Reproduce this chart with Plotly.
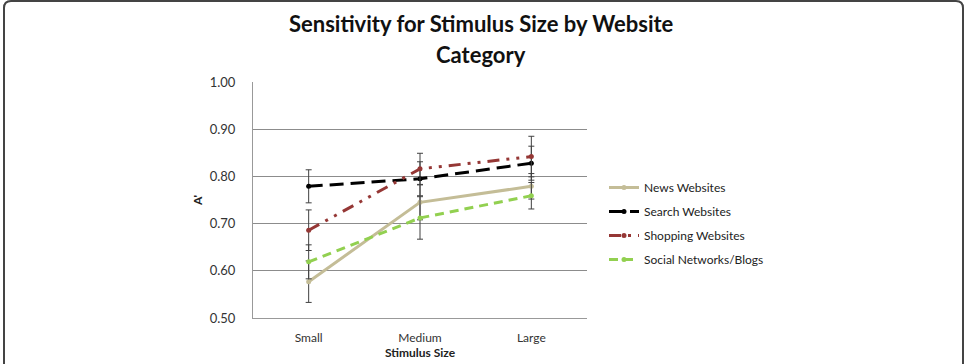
import plotly.graph_objects as go

categories = ["Small", "Medium", "Large"]
series_names = ["News Websites", "Search Websites", "Shopping Websites", "Social Networks/Blogs"]
news = [0.577, 0.745, 0.779]
search = [0.779, 0.795, 0.828]
shopping = [0.686, 0.816, 0.842]
social = [0.619, 0.712, 0.759]
news_err = [0.044, 0.037, 0.027]
search_err = [0.035, 0.036, 0.036]
shopping_err = [0.043, 0.033, 0.043]
social_err = [0.036, 0.045, 0.028]
y_ticks = [0.5, 0.6, 0.7, 0.8, 0.9, 1.0]
title_lines = ["Sensitivity for Stimulus Size by Website", "Category"]

W, H = 967, 364
L, R, T, B = 253, 380, 82, 46
PW, PH = W - L - R, H - T - B

def px(x):
    return (x - L) / PW

def py(y):
    return (H - B - y) / PH

FONT = "Lato, 'Open Sans', sans-serif"

styles = [
    dict(color="#C4BD97", dash="solid", symbol="circle"),
    dict(color="#000000", dash="14px,7px", symbol="circle"),
    dict(color="#953735", dash="12px,7px,3px,7px,3px,7px", symbol="circle"),
    dict(color="#92D050", dash="9px,6px", symbol="circle"),
]
values = [news, search, shopping, social]
errs = [news_err, search_err, shopping_err, social_err]

fig = go.Figure()
for i, (name, vals, err, st) in enumerate(zip(series_names, values, errs, styles)):
    fig.add_trace(go.Scatter(
        x=categories, y=vals, name=name, mode="lines+markers",
        line=dict(color=st["color"], width=3, dash=st["dash"]),
        marker=dict(color=st["color"], size=5, symbol=st["symbol"]),
        error_y=dict(type="data", array=err, visible=True, color="#404040",
                     thickness=1, width=3),
        legendgroup=f"g{i}",
    ))

frame_path = (f"M {px(4)},{py(372)} L {px(4)},{py(8)} Q {px(4)},{py(1)} {px(11)},{py(1)} "
              f"L {px(956)},{py(1)} Q {px(963)},{py(1)} {px(963)},{py(8)} L {px(963)},{py(372)}")

annotations = []
for txt, yc in zip(title_lines, [23, 54]):
    annotations.append(dict(
        text=f"<b>{txt}</b>", xref="paper", yref="paper", x=px(481), y=py(yc),
        xanchor="center", yanchor="middle", showarrow=False,
        font=dict(family=FONT, size=22, color="#111111")))

fig.update_layout(
    width=W, height=H,
    margin=dict(l=L, r=R, t=T, b=B, autoexpand=False),
    paper_bgcolor="white", plot_bgcolor="white",
    font=dict(family=FONT, size=12, color="#222222"),
    showlegend=True,
    legend=dict(x=px(604), y=py(173), xanchor="left", yanchor="top",
                traceorder="grouped", tracegroupgap=5,
                font=dict(family=FONT, size=12, color="#222222"),
                bgcolor="rgba(0,0,0,0)"),
    xaxis=dict(
        type="category", categoryorder="array", categoryarray=categories,
        range=[-0.5, 2.5], automargin=False,
        showgrid=False, showline=True, linecolor="#999999", linewidth=1,
        ticks="", ticklabelstandoff=9,
        title=dict(text="<b>Stimulus Size</b>", font=dict(size=12, color="#222222"), standoff=4),
        tickfont=dict(size=12, color="#333333"),
    ),
    yaxis=dict(
        range=[0.5, 1.0], tickvals=y_ticks, tickformat=".2f", automargin=False,
        showgrid=True, gridcolor="#8c8c8c", gridwidth=1,
        showline=True, linecolor="#999999", linewidth=1,
        ticks="", ticklabelstandoff=14, zeroline=False,
        title=dict(text="<b>A'</b>", font=dict(size=12, color="#222222"), standoff=4),
        tickfont=dict(size=13, color="#333333"),
    ),
    annotations=annotations,
    shapes=[dict(type="path", path=frame_path, xref="paper", yref="paper",
                 line=dict(color="#444444", width=2), layer="above")],
)

fig.write_html("out.html")
